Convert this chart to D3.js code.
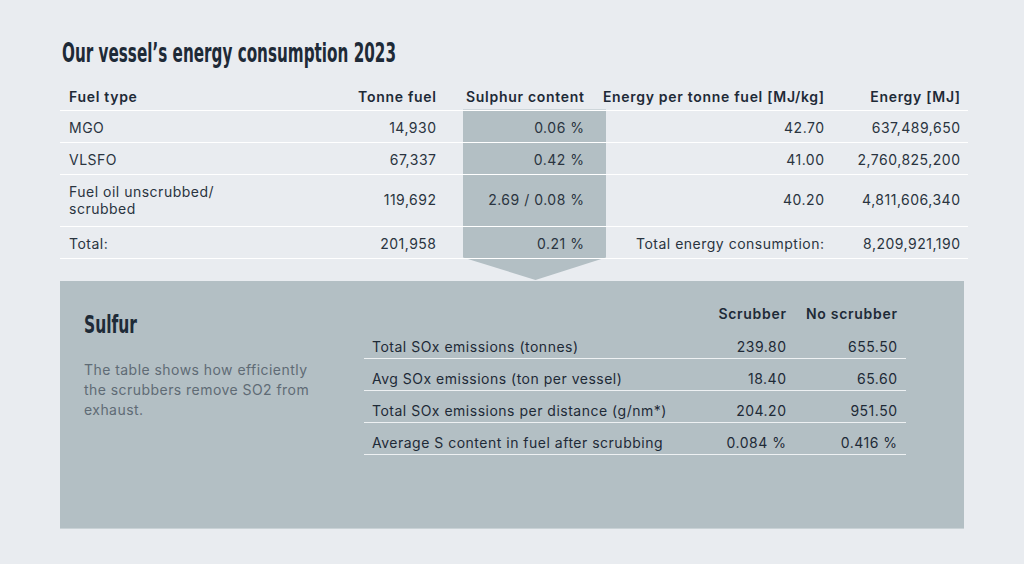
<!DOCTYPE html>
<html><head><meta charset="utf-8">
<script src="https://cdn.jsdelivr.net/npm/d3@7"></script>
<style>
html,body{margin:0;padding:0;background:#e9ecf0;}
svg{display:block;}
</style></head>
<body>
<svg id="c" width="1024" height="564"></svg>
<script>
// ---- data ----
const title = "Our vessel\u2019s energy consumption 2023";
const headers = ["Fuel type", "Tonne fuel", "Sulphur content", "Energy per tonne fuel [MJ/kg]", "Energy [MJ]"];
const fuelTypes = [["MGO"], ["VLSFO"], ["Fuel oil unscrubbed/", "scrubbed"], ["Total:"]];
const tonneFuel = ["14,930", "67,337", "119,692", "201,958"];
const sulphurContent = ["0.06 %", "0.42 %", "2.69 / 0.08 %", "0.21 %"];
const energyPerTonne = ["42.70", "41.00", "40.20", "Total energy consumption:"];
const energyMJ = ["637,489,650", "2,760,825,200", "4,811,606,340", "8,209,921,190"];

const sulfurTitle = "Sulfur";
const sulfurText = ["The table shows how efficiently", "the scrubbers remove SO2 from", "exhaust."];
const soxHeaders = ["Scrubber", "No scrubber"];
const soxLabels = ["Total SOx emissions (tonnes)", "Avg SOx emissions (ton per vessel)", "Total SOx emissions per distance (g/nm*)", "Average S content in fuel after scrubbing"];
const soxScrubber = ["239.80", "18.40", "204.20", "0.084 %"];
const soxNoScrubber = ["655.50", "65.60", "951.50", "0.416 %"];

// ---- layout ----
const svg = d3.select("#c");
const W = 1024, H = 564;
const bodyFont = "Inter, Roboto, 'Noto Sans', sans-serif";
const condFont = "'Liberation Sans Narrow', 'DejaVu Sans Condensed', sans-serif";
const dark = "#1e2a37";
const gray = "#b3bfc4";
const ls = 0.5, lsBold = 0.7;

svg.append("rect").attr("width", W).attr("height", H).attr("fill", "#e9ecf0");

// title
svg.append("text").attr("x", 62).attr("y", 62)
  .attr("font-family", condFont).attr("font-weight", 700).attr("font-size", 27)
  .attr("fill", dark).attr("textLength", 334).attr("lengthAdjust", "spacingAndGlyphs")
  .text(title);

// row geometry via scale: cumulative row heights
const rowUnits = [1, 1, 1.625, 1];
const cum = [0]; rowUnits.forEach((u, i) => cum.push(cum[i] + u));
const yRow = d3.scaleLinear().domain([0, cum[cum.length - 1]]).range([109.5, 257.5]);

const colKeys = ["type", "tonne", "sulphur", "ept", "energy"];
const colX = d3.scaleOrdinal().domain(colKeys).range([69, 436, 584, 824, 960]);
const colAnchor = {type: "start", tonne: "end", sulphur: "end", ept: "end", energy: "end"};

// sulphur column gray band + arrow
const colL = 463, colR = 606, arrowTipY = 280;
svg.append("path")
  .attr("d", `M${colL},${yRow(0)} L${colR},${yRow(0)} L${colR},${yRow(cum[4])} L${(colL + colR) / 2 + 1},${arrowTipY} L${colL},${yRow(cum[4])} Z`)
  .attr("fill", gray);

// panel
svg.append("rect").attr("x", 60).attr("y", 281).attr("width", 904).attr("height", 247).attr("fill", "#b3bfc4");
svg.append("line").attr("x1", 60).attr("x2", 964).attr("y1", 528.5).attr("y2", 528.5).attr("stroke", "#c9d2d6");

// header
const hdr = svg.append("g").attr("font-family", bodyFont).attr("font-weight", 600).attr("font-size", 14)
  .attr("letter-spacing", lsBold).attr("fill", dark);
hdr.selectAll("text").data(headers).join("text")
  .attr("x", (d, i) => colX(colKeys[i]) + (i ? lsBold : 0)).attr("y", 102)
  .attr("text-anchor", (d, i) => colAnchor[colKeys[i]])
  .text(d => d);

// row separator lines
svg.append("g").selectAll("line").data(cum).join("line")
  .attr("x1", 60).attr("x2", 968)
  .attr("y1", d => Math.round(yRow(d)) + 0.5).attr("y2", d => Math.round(yRow(d)) + 0.5)
  .attr("stroke", "#ffffff").attr("stroke-width", 1.2);

// body rows
const rows = fuelTypes.map((f, i) => ({i, type: f, tonne: tonneFuel[i], sulphur: sulphurContent[i], ept: energyPerTonne[i], energy: energyMJ[i]}));
const body = svg.append("g").attr("font-family", bodyFont).attr("font-size", 14)
  .attr("letter-spacing", ls).attr("fill", "#2a3440");
rows.forEach(r => {
  const mid = (yRow(cum[r.i]) + yRow(cum[r.i + 1])) / 2;
  const multi = r.type.length > 1;
  const t = body.append("text").attr("x", colX("type")).attr("y", multi ? mid - 3 : mid + 7);
  r.type.forEach((ln, k) => t.append("tspan").attr("x", colX("type")).attr("dy", k ? 17 : 0).text(ln));
  ["tonne", "sulphur", "ept", "energy"].forEach(k => {
    body.append("text").attr("x", colX(k) + ls).attr("y", multi ? mid + 5 : mid + 7)
      .attr("text-anchor", "end").text(r[k]);
  });
});

// Sulfur section
svg.append("text").attr("x", 84).attr("y", 333)
  .attr("font-family", condFont).attr("font-weight", 700).attr("font-size", 25)
  .attr("fill", dark).attr("textLength", 53).attr("lengthAdjust", "spacingAndGlyphs")
  .text(sulfurTitle);
svg.append("g").attr("font-family", bodyFont).attr("font-size", 14).attr("letter-spacing", 0.45).attr("fill", "#5f6b75")
  .selectAll("text").data(sulfurText).join("text")
  .attr("x", 84).attr("y", (d, i) => 375 + i * 20).text(d => d);

// SOx table
const soxY = d3.scaleLinear().domain([0, 4]).range([326.5, 454.5]);
const soxCols = d3.scaleOrdinal().domain(["label", "scr", "noscr"]).range([372, 786, 897]);
const sox = svg.append("g").attr("font-family", bodyFont).attr("font-size", 14).attr("letter-spacing", ls).attr("fill", "#1e2a37");
sox.selectAll("text.h").data(soxHeaders).join("text").attr("class", "h")
  .attr("x", (d, i) => soxCols(i ? "noscr" : "scr") + lsBold).attr("y", 319)
  .attr("letter-spacing", lsBold)
  .attr("text-anchor", "end").attr("font-weight", 600).text(d => d);
sox.selectAll("line").data(d3.range(1, 5)).join("line")
  .attr("x1", 364).attr("x2", 906)
  .attr("y1", d => soxY(d)).attr("y2", d => soxY(d))
  .attr("stroke", "#eef1f3").attr("stroke-width", 1.2);
soxLabels.forEach((lab, i) => {
  const base = soxY(i + 1) - 7;
  sox.append("text").attr("x", soxCols("label")).attr("y", base).text(lab);
  sox.append("text").attr("x", soxCols("scr") + ls).attr("y", base).attr("text-anchor", "end").text(soxScrubber[i]);
  sox.append("text").attr("x", soxCols("noscr") + ls).attr("y", base).attr("text-anchor", "end").text(soxNoScrubber[i]);
});
</script>
</body></html>
